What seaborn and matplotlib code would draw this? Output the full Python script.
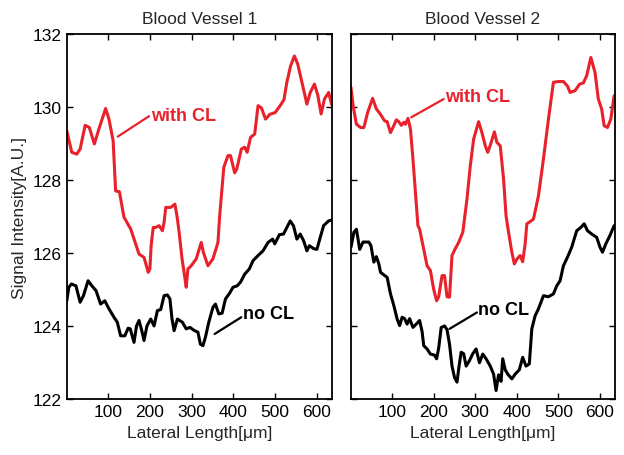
import matplotlib
matplotlib.use("Agg")
import matplotlib.pyplot as plt
import seaborn as sns
import pandas as pd

# Blood Vessel 1
v1_red_x = [1, 13, 25, 33, 45, 55, 67, 78, 94, 102, 112, 118, 127, 138, 154, 166, 174, 186, 196, 200,
            203, 208, 214, 222, 230, 234, 238, 250, 260, 266, 270, 277, 283, 287, 291, 299, 311, 323, 328, 339,
            351, 363, 367, 377, 387, 393, 403, 408, 419, 427, 433, 441, 451, 459, 467, 477, 487, 500, 512, 521,
            528, 537, 546, 554, 564, 576, 584, 594, 602, 610, 618, 628, 635]
v1_red_y = [129.35, 128.76, 128.71, 128.85, 129.5, 129.44, 128.99, 129.4, 129.96, 129.67, 129.08, 127.7, 127.68,
            126.98, 126.66, 126.25, 125.97, 125.88, 125.47, 125.56, 126.2, 126.7, 126.7, 126.75, 126.61, 126.84,
            127.25, 127.25, 127.34, 126.93, 126.57, 125.84, 125.38, 125.06, 125.56, 125.65, 125.84, 126.29, 126.02,
            125.65, 125.84, 126.29, 127.0, 128.35, 128.67, 128.67, 128.2, 128.3, 128.85, 128.9, 128.76, 129.17,
            129.26, 130.04, 129.98, 129.67, 129.8, 129.85, 130.04, 130.2, 130.68, 131.13, 131.4, 131.18, 130.68,
            130.08, 130.4, 130.63, 130.33, 129.81, 130.22, 130.4, 130.08]

v1_black_x = [1, 6, 12, 23, 33, 41, 52, 61, 71, 82, 92, 102, 114, 122, 130, 140, 148, 153, 162, 168,
              174, 180, 186, 193, 202, 210, 218, 226, 234, 242, 248, 253, 258, 266, 278, 287, 296, 307, 315, 321,
              327, 333, 341, 351, 357, 365, 373, 381, 391, 399, 409, 417, 427, 438, 447, 459, 471, 483, 494, 499,
              510, 520, 528, 536, 544, 552, 560, 568, 576, 582, 592, 600, 608, 616, 628, 635]
v1_black_y = [124.69, 125.06, 125.15, 125.1, 124.65, 124.83, 125.24, 125.1, 124.97, 124.6, 124.69, 124.47,
              124.24, 124.1, 123.73, 123.73, 123.94, 123.92, 123.55, 124.0, 124.15, 123.9, 123.6, 124.0, 124.19,
              124.0, 124.42, 124.45, 124.83, 124.85, 124.74, 124.19, 123.87, 124.19, 124.1, 123.92, 123.96, 123.87,
              123.83, 123.5, 123.46, 123.69, 124.1, 124.51, 124.6, 124.33, 124.35, 124.74, 124.9, 125.06, 125.1,
              125.2, 125.42, 125.56, 125.79, 125.93, 126.06, 126.29, 126.38, 126.25, 126.5, 126.52, 126.7, 126.88,
              126.74, 126.38, 126.52, 126.34, 126.06, 126.2, 126.12, 126.1, 126.43, 126.75, 126.88, 126.9]

# Blood Vessel 2
v2_red_x = [1, 6, 14, 24, 32, 41, 53, 62, 72, 82, 88, 96, 102, 110, 116, 122, 128, 132, 138, 144,
            150, 156, 162, 166, 176, 184, 192, 200, 207, 212, 220, 226, 232, 238, 244, 251, 260, 270, 280, 288,
            296, 308, 316, 324, 330, 336, 346, 352, 360, 368, 374, 380, 388, 394, 400, 408, 414, 420, 424, 432,
            440, 452, 464, 476, 488, 500, 512, 522, 528, 540, 551, 560, 568, 578, 588, 596, 604, 610, 618, 626,
            634]
v2_red_y = [130.54, 130.04, 129.53, 129.44, 129.44, 129.85, 130.24, 129.95, 129.8, 129.62, 129.6, 129.3, 129.44,
            129.65, 129.6, 129.5, 129.58, 129.53, 129.69, 129.4, 128.58, 127.66, 126.75, 126.66, 126.1, 125.65,
            125.52, 125.0, 124.69, 124.8, 125.38, 125.38, 124.8, 124.79, 125.93, 126.1, 126.29, 126.57, 127.48,
            128.39, 129.12, 129.6, 129.3, 128.94, 128.76, 128.95, 129.32, 129.03, 128.94, 128.03, 127.02, 126.57,
            126.02, 125.7, 125.83, 125.93, 125.76, 126.25, 126.8, 126.86, 126.93, 127.57, 128.58, 129.67, 130.68,
            130.7, 130.7, 130.57, 130.4, 130.45, 130.63, 130.66, 130.86, 131.36, 130.95, 130.22, 129.95, 129.49,
            129.44, 129.67, 130.31]

v2_black_x = [1, 8, 14, 22, 30, 44, 49, 56, 62, 68, 72, 80, 88, 96, 104, 112, 118, 124, 130, 136,
              142, 150, 158, 166, 172, 176, 184, 192, 202, 207, 212, 218, 226, 232, 238, 244, 250, 256, 261, 266,
              272, 278, 286, 294, 302, 310, 318, 326, 336, 344, 350, 356, 362, 366, 372, 378, 388, 396, 406, 414,
              422, 430, 436, 444, 452, 464, 476, 488, 496, 504, 512, 522, 532, 544, 554, 562, 570, 580, 592, 600,
              606, 614, 624, 634]
v2_black_y = [126.16, 126.57, 126.65, 126.1, 126.3, 126.3, 126.2, 125.75, 125.9, 125.7, 125.47, 125.4, 125.33,
              124.88, 124.56, 124.19, 124.01, 124.24, 124.2, 124.05, 124.2, 123.96, 124.05, 124.15, 123.85,
              123.46, 123.37, 123.23, 123.2, 123.1, 123.4, 123.96, 124.0, 123.9, 123.5, 122.9, 122.59, 122.46,
              122.9, 123.28, 123.24, 122.9, 123.05, 123.24, 123.37, 122.99, 123.23, 123.1, 122.9, 122.68, 122.23,
              122.66, 122.48, 123.1, 122.8, 122.68, 122.55, 122.68, 122.8, 123.14, 122.9, 122.96, 123.92, 124.28,
              124.47, 124.83, 124.8, 124.88, 125.1, 125.24, 125.65, 125.89, 126.16, 126.61, 126.7, 126.8, 126.61,
              126.52, 126.43, 126.16, 126.02, 126.25, 126.48, 126.75]

titles = ["Blood Vessel 1", "Blood Vessel 2"]
y_ticks = [122, 124, 126, 128, 130, 132]
x_ticks = [100, 200, 300, 400, 500, 600]

# annotation: (label, text xy, line start xy, line end xy)
notes_1 = [("with CL", (203, 129.78), (123, 129.19), (198, 129.75)),
           ("no CL", (422, 124.33), (355, 123.78), (419, 124.24))]
notes_2 = [("with CL", (228, 130.3), (146, 129.72), (224, 130.22)),
           ("no CL", (307, 124.44), (238, 123.92), (304, 124.37))]

RED = "#e8212b"

sns.set_style("ticks")
plt.rcParams["font.family"] = ["Liberation Sans", "DejaVu Sans"]

fig = plt.figure(figsize=(6.24, 4.56), dpi=100)
ax1 = fig.add_axes([0.107, 0.123, 0.425, 0.800])
ax2 = fig.add_axes([0.5625, 0.123, 0.423, 0.800])

panels = [
    (ax1, v1_red_x, v1_red_y, v1_black_x, v1_black_y, notes_1),
    (ax2, v2_red_x, v2_red_y, v2_black_x, v2_black_y, notes_2),
]

for i, (ax, rx, ry, bx, by, notes) in enumerate(panels):
    red = pd.DataFrame({"x": rx, "y": ry})
    blk = pd.DataFrame({"x": bx, "y": by})
    sns.lineplot(data=red, x="x", y="y", color=RED, linewidth=2.2, estimator=None, ax=ax,
                 solid_joinstyle="round")
    sns.lineplot(data=blk, x="x", y="y", color="black", linewidth=2.2, estimator=None, ax=ax,
                 solid_joinstyle="round")

    for label, txy, p0, p1 in notes:
        col = RED if label == "with CL" else "black"
        ax.plot([p0[0], p1[0]], [p0[1], p1[1]], color=col, linewidth=1.6)
        ax.text(txy[0], txy[1], label, color=col, fontsize=13, fontweight="bold",
                ha="left", va="center")

    ax.set_xlim(1, 636)
    ax.set_ylim(122, 132)
    ax.set_xticks(x_ticks)
    ax.set_yticks(y_ticks)
    ax.tick_params(direction="in", length=4, width=1, top=True, right=True,
                   labelsize=12.5, pad=4, colors="black")
    for sp in ax.spines.values():
        sp.set_linewidth(1.3)
        sp.set_color("black")
    ax.set_title(titles[i], fontsize=12.5, pad=8)
    ax.set_xlabel("Lateral Length[μm]", fontsize=12.5, labelpad=4)
    if i == 0:
        ax.set_ylabel("Signal Intensity[A.U.]", fontsize=12.5, labelpad=4)
    else:
        ax.set_ylabel("")
        ax.tick_params(labelleft=False)

fig.savefig("out.png", dpi=100)
